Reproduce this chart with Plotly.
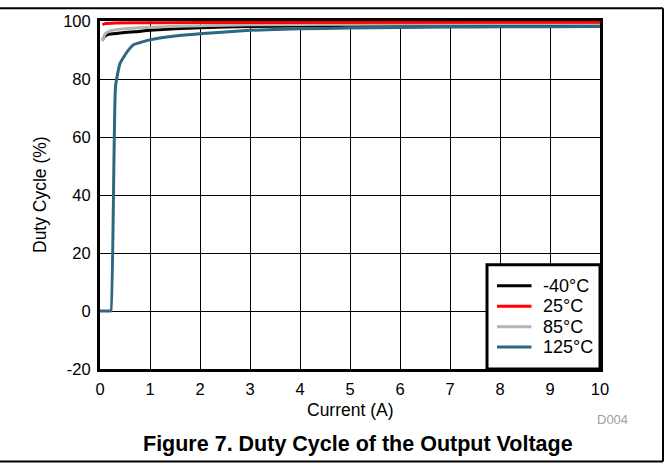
"""Duty cycle vs current, four temperatures."""

import plotly.graph_objects as go

# -40°C
x_m40 = [0.05, 0.1, 0.2, 0.4, 0.7, 1.0, 1.5, 2.0, 3.0, 4.0, 5.0, 6.0, 8.0, 10.0]
y_m40 = [93.5, 94.8, 95.5, 95.9, 96.3, 96.8, 97.3, 97.7, 98.1, 98.3, 98.5, 98.6, 98.7, 98.8]
# 25°C
x_25 = [0.05, 0.1, 0.3, 1.0, 3.0, 10.0]
y_25 = [98.7, 99.1, 99.3, 99.4, 99.5, 99.6]
# 85°C
x_85 = [0.05, 0.1, 0.2, 0.4, 0.8, 1.5, 2.0, 3.0, 5.0, 7.0, 10.0]
y_85 = [93.0, 95.5, 96.6, 97.2, 97.7, 98.2, 98.4, 98.7, 98.9, 99.0, 99.1]
# 125°C
x_125 = [0.0, 0.2, 0.22, 0.31, 0.4, 0.56, 0.67, 1.0, 1.5, 2.0, 3.0, 4.0, 5.0, 6.0, 7.0, 8.0, 9.0, 10.0]
y_125 = [0.0, 0.0, 0.0, 77.4, 85.4, 89.8, 91.8, 93.5, 94.8, 95.6, 96.8, 97.3, 97.6, 97.8, 97.9, 98.0, 98.0, 98.1]

x_ticks = list(range(0, 11))
y_ticks = [-20, 0, 20, 40, 60, 80, 100]
y_tick_labels = ["-20", "0", "20", "40", "60", "80", "100"]

FONT = "Liberation Sans, Arial, sans-serif"

# (name, x, y, colour) in drawing order
series = [
    ("-40°C", x_m40, y_m40, "#000000"),
    ("85°C", x_85, y_85, "#b4b4b4"),
    ("25°C", x_25, y_25, "#ff0000"),
    ("125°C", x_125, y_125, "#2f6682"),
]
legend_order = ["-40°C", "25°C", "85°C", "125°C"]
colors = {name: color for name, _, _, color in series}

fig = go.Figure()
for name, xs, ys, color in series:
    fig.add_trace(
        go.Scatter(
            x=xs,
            y=ys,
            mode="lines",
            name=name,
            showlegend=False,
            line={"color": color, "width": 3, "shape": "spline", "smoothing": 0.4},
        )
    )

axis_common = dict(
    showgrid=True,
    gridcolor="#000000",
    gridwidth=1,
    showline=True,
    linecolor="#000000",
    linewidth=3,
    mirror=True,
    zeroline=False,
    ticks="",
    tickfont={"family": FONT, "size": 16.5, "color": "#000000"},
)

fig.update_xaxes(range=[0, 10], tickvals=x_ticks, ticklabelstandoff=3, **axis_common)
fig.update_yaxes(
    range=[-20, 100], tickvals=y_ticks, ticktext=y_tick_labels, ticklabelstandoff=3, **axis_common
)

# Légende dessinée à la main (boîte en bas à droite du tracé).
plot_h = 354.0
box_top = (369 - 263) / plot_h
shapes = [
    dict(type="rect", xref="paper", yref="paper", x0=0.774, x1=1.0, y0=0.0, y1=box_top,
         fillcolor="white", line={"color": "#000000", "width": 3}, layer="above"),
]
annotations = []
for i, name in enumerate(legend_order):
    yy = (369 - (284.3 + 20.8 * i)) / plot_h
    shapes.append(
        dict(type="line", xref="paper", yref="paper", x0=0.794, x1=0.863, y0=yy, y1=yy,
             line={"color": colors[name], "width": 3}, layer="above")
    )
    annotations.append(
        dict(text=name, x=0.881, y=yy, xref="paper", yref="paper",
             xanchor="left", yanchor="middle", showarrow=False,
             font={"family": FONT, "size": 18, "color": "#000000"})
    )

# Cadre de la figure (haut, droite, bas).
frame = {"color": "#000000", "width": 2}
shapes += [
    dict(type="line", xref="paper", yref="paper", x0=-0.25, x1=1.126, y0=1.0367, y1=1.0367, line=frame),
    dict(type="line", xref="paper", yref="paper", x0=1.126, x1=1.126, y0=1.0367, y1=-0.2655, line=frame),
    dict(type="line", xref="paper", yref="paper", x0=-0.25, x1=1.126, y0=-0.2655, y1=-0.2655, line=frame),
]

annotations += [
    dict(text="Current (A)", x=0.5, y=-0.1186, xref="paper", yref="paper",
         xanchor="center", yanchor="middle", showarrow=False,
         font={"family": FONT, "size": 17.5, "color": "#000000"}),
    dict(text="Duty Cycle (%)", x=-0.12, y=0.5, xref="paper", yref="paper",
         xanchor="center", yanchor="middle", showarrow=False, textangle=-90,
         font={"family": FONT, "size": 17.5, "color": "#000000"}),
    dict(text="D004", x=1.025, y=-0.146, xref="paper", yref="paper",
         xanchor="center", yanchor="middle", showarrow=False,
         font={"family": FONT, "size": 13, "color": "#a0a0a0"}),
    dict(text="<b>Figure 7. Duty Cycle of the Output Voltage</b>", x=0.516, y=-0.2147,
         xref="paper", yref="paper", xanchor="center", yanchor="middle", showarrow=False,
         font={"family": FONT, "size": 21.5, "color": "#000000"}),
]

fig.update_layout(
    width=669,
    height=466,
    margin={"l": 100, "r": 69, "t": 15, "b": 97},
    paper_bgcolor="white",
    plot_bgcolor="white",
    showlegend=False,
    shapes=shapes,
    annotations=annotations,
)

fig.write_html(
    "out.html",
    config={"displayModeBar": False},
    post_script=(
        "document.body.style.margin='0';"
        "var gd=document.getElementById('{plot_id}');"
        "gd.style.position='absolute';gd.style.left='0px';gd.style.top='0px';"
    ),
)
